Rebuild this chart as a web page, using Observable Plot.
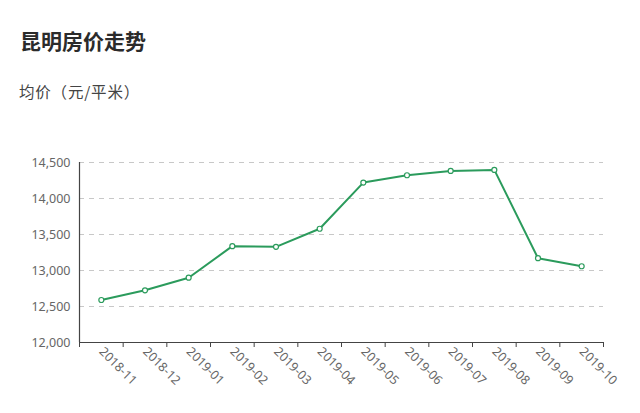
<!DOCTYPE html>
<html>
<head>
<meta charset="utf-8">
<script src="https://cdn.jsdelivr.net/npm/d3@7"></script>
<script src="https://cdn.jsdelivr.net/npm/@observablehq/plot@0.6"></script>
<style>
  html, body { margin: 0; padding: 0; background: #fff; width: 640px; height: 413px; overflow: hidden; }
  #hdr { position: relative; height: 120px; }
  #title { position: absolute; left: 20px; top: 30px; font: bold 21px/1 "Noto Sans CJK SC", sans-serif; color: #2b2b2b; }
  #sub { position: absolute; left: 19px; top: 84px; font: 15.5px/1 "Noto Sans CJK SC", sans-serif; color: #444; letter-spacing: 0.8px; }
  #chart svg { display: block; }
</style>
</head>
<body>
<div id="hdr">
  <div id="title">昆明房价走势</div>
  <div id="sub">均价（元/平米）</div>
</div>
<div id="chart"></div>
<script>
const months = ["2018-11","2018-12","2019-01","2019-02","2019-03","2019-04","2019-05","2019-06","2019-07","2019-08","2019-09","2019-10"];
const prices = [12590, 12725, 12900, 13338, 13329, 13580, 14221, 14323, 14383, 14397, 13171, 13059];
const yTicks = [12000, 12500, 13000, 13500, 14000, 14500];

const data = months.map((m, i) => ({i, m, v: prices[i]}));
const centers = d3.range(months.length);
const bounds = d3.range(-0.5, months.length, 1);
const lineColor = "#2b9b5c";

const chart = Plot.plot({
  width: 640,
  height: 293,
  marginTop: 42,
  marginBottom: 71,
  marginLeft: 79,
  marginRight: 37,
  style: {fontFamily: "'Noto Sans', sans-serif", fontSize: "12px", color: "#555", background: "#fff", overflow: "visible"},
  x: {type: "linear", domain: [-0.5, months.length - 0.5]},
  y: {domain: [12000, 14500]},
  marks: [
    Plot.gridY(yTicks.slice(1), {stroke: "#c8c8c8", strokeOpacity: 1, strokeDasharray: "5,5"}),
    Plot.axisY(yTicks, {tickSize: 0, tickPadding: 9, tickFormat: d3.format(","), label: null, fill: "#666", fontSize: 12.5}),
    Plot.axisX(bounds, {tickSize: 5, tickFormat: () => "", label: null, stroke: "#444"}),
    Plot.axisX(centers, {tickSize: 0, tickPadding: 7, tickRotate: 45, tickFormat: i => months[i], label: null, fill: "#666", fontSize: 12.5}),
    Plot.ruleY([12000], {stroke: "#444", strokeWidth: 1.2}),
    Plot.ruleX([-0.5], {stroke: "#444", strokeWidth: 1.2}),
    Plot.line(data, {x: "i", y: "v", stroke: lineColor, strokeWidth: 2}),
    Plot.dot(data, {x: "i", y: "v", r: 2.5, fill: "#fff", stroke: lineColor, strokeWidth: 1.2})
  ]
});
document.getElementById("chart").appendChild(chart);
</script>
</body>
</html>
